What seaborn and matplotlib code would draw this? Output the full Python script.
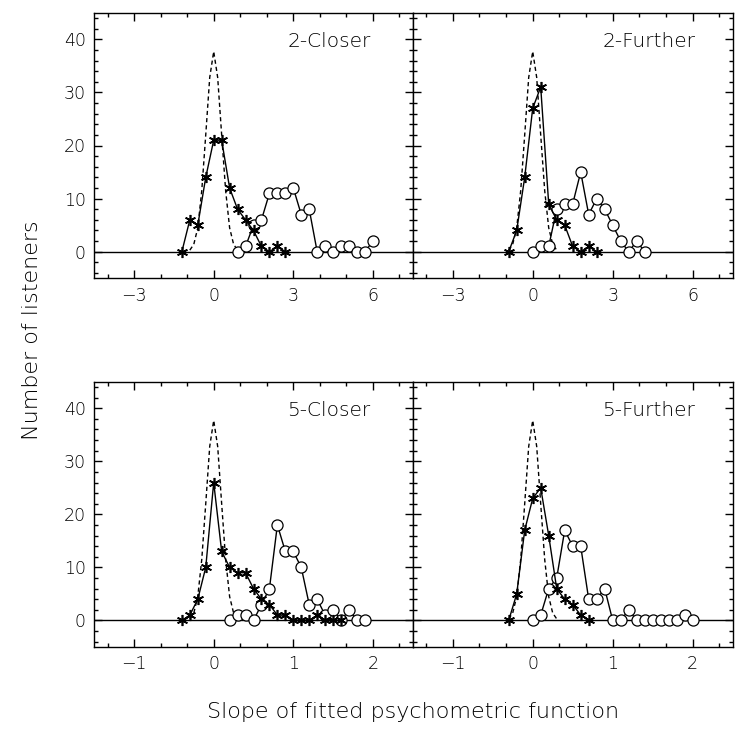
import numpy as np
import pandas as pd
import seaborn as sns
import matplotlib.pyplot as plt
from matplotlib.ticker import MultipleLocator

# ---- data ----
# 2-Closer
c2_star_x = [-1.2, -0.9, -0.6, -0.3, 0.0, 0.3, 0.6, 0.9, 1.2, 1.5, 1.8, 2.1, 2.4, 2.7]
c2_star_y = [0, 6, 5, 14, 21, 21, 12, 8, 6, 4, 1, 0, 1, 0]
c2_circ_x = [0.9, 1.2, 1.5, 1.8, 2.1, 2.4, 2.7, 3.0, 3.3, 3.6, 3.9, 4.2, 4.5, 4.8, 5.1, 5.4, 5.7, 6.0]
c2_circ_y = [0, 1, 5, 6, 11, 11, 11, 12, 7, 8, 0, 1, 0, 1, 1, 0, 0, 2]

# 2-Further
f2_star_x = [-0.9, -0.6, -0.3, 0.0, 0.3, 0.6, 0.9, 1.2, 1.5, 1.8, 2.1, 2.4]
f2_star_y = [0, 4, 14, 27, 31, 9, 6, 5, 1, 0, 1, 0]
f2_circ_x = [0.0, 0.3, 0.6, 0.9, 1.2, 1.5, 1.8, 2.1, 2.4, 2.7, 3.0, 3.3, 3.6, 3.9, 4.2]
f2_circ_y = [0, 1, 1, 8, 9, 9, 15, 7, 10, 8, 5, 2, 0, 2, 0]

# 5-Closer
c5_star_x = [-0.4, -0.3, -0.2, -0.1, 0.0, 0.1, 0.2, 0.3, 0.4, 0.5, 0.6, 0.7, 0.8, 0.9,
             1.0, 1.1, 1.2, 1.3, 1.4, 1.5, 1.6]
c5_star_y = [0, 1, 4, 10, 26, 13, 10, 9, 9, 6, 4, 3, 1, 1, 0, 0, 0, 1, 0, 0, 0]
c5_circ_x = [0.2, 0.3, 0.4, 0.5, 0.6, 0.7, 0.8, 0.9, 1.0, 1.1, 1.2, 1.3, 1.4, 1.5, 1.6, 1.7, 1.8, 1.9]
c5_circ_y = [0, 1, 1, 0, 3, 6, 18, 13, 13, 10, 3, 4, 1, 2, 0, 2, 0, 0]

# 5-Further
f5_star_x = [-0.3, -0.2, -0.1, 0.0, 0.1, 0.2, 0.3, 0.4, 0.5, 0.6, 0.7]
f5_star_y = [0, 5, 17, 23, 25, 16, 6, 4, 3, 1, 0]
f5_circ_x = [0.0, 0.1, 0.2, 0.3, 0.4, 0.5, 0.6, 0.7, 0.8, 0.9, 1.0, 1.1, 1.2, 1.3, 1.4,
             1.5, 1.6, 1.7, 1.8, 1.9, 2.0]
f5_circ_y = [0, 1, 6, 8, 17, 14, 14, 4, 4, 6, 0, 0, 2, 0, 0, 0, 0, 0, 0, 1, 0]

# dashed reference curve (same shape in every panel)
dash_x_top = [-0.9, -0.75, -0.6, -0.45, -0.3, -0.15, 0.0, 0.15, 0.3, 0.45, 0.6, 0.75, 0.9]
dash_x_bot = [-0.3, -0.25, -0.2, -0.15, -0.1, -0.05, 0.0, 0.05, 0.1, 0.15, 0.2, 0.25, 0.3]
dash_y = [0.3, 1.4, 4.5, 11.5, 22.0, 32.8, 37.7, 32.8, 22.0, 11.5, 4.5, 1.4, 0.3]

panel_names = ["2-Closer", "2-Further", "5-Closer", "5-Further"]

sns.set_style("ticks")
plt.rcParams["font.family"] = ["DejaVu Sans"]
plt.rcParams["font.weight"] = "light"
plt.rcParams["axes.linewidth"] = 1.0

fig = plt.figure(figsize=(7.44, 7.48), dpi=100)
W, H = 744, 748
boxes = [
    (94.3, 12.7, 318.4, 265.6),
    (412.7, 12.7, 320.0, 265.6),
    (94.3, 381.7, 318.4, 265.3),
    (412.7, 381.7, 320.0, 265.3),
]
axes = [fig.add_axes([x / W, 1 - (y + h) / H, w / W, h / H]) for x, y, w, h in boxes]

series = [
    (c2_star_x, c2_star_y, c2_circ_x, c2_circ_y),
    (f2_star_x, f2_star_y, f2_circ_x, f2_circ_y),
    (c5_star_x, c5_star_y, c5_circ_x, c5_circ_y),
    (f5_star_x, f5_star_y, f5_circ_x, f5_circ_y),
]

for i, ax in enumerate(axes):
    sx, sy, cx, cy = series[i]
    top = i < 2
    dx = dash_x_top if top else dash_x_bot

    ax.axhline(0, color="k", lw=1.0, zorder=1)
    sns.lineplot(x=dx, y=dash_y, ax=ax, color="k", lw=1.0, linestyle=(0, (3, 2.2)),
                 sort=False, errorbar=None, zorder=2)
    sns.lineplot(x=cx, y=cy, ax=ax, color="k", lw=1.0, marker="o", markersize=8,
                 markerfacecolor="white", markeredgecolor="k", markeredgewidth=0.9,
                 sort=False, errorbar=None, zorder=3)
    sns.lineplot(x=sx, y=sy, ax=ax, color="k", lw=1.0, marker=(6, 2, 0), markersize=8,
                 markeredgecolor="k", markeredgewidth=1.2,
                 sort=False, errorbar=None, zorder=4)

    if top:
        ax.set_xlim(-4.5, 7.5)
        ax.xaxis.set_major_locator(MultipleLocator(3))
        ax.xaxis.set_minor_locator(MultipleLocator(1))
    else:
        ax.set_xlim(-1.5, 2.5)
        ax.xaxis.set_major_locator(MultipleLocator(1))
        ax.xaxis.set_minor_locator(MultipleLocator(1 / 3))
    ax.set_ylim(-5, 45)
    ax.yaxis.set_major_locator(MultipleLocator(10))
    ax.yaxis.set_minor_locator(MultipleLocator(2))
    ax.set_xlabel("")
    ax.set_ylabel("")

    ax.tick_params(which="both", direction="in", top=True, right=True,
                   labelsize=12.5, color="k", labelcolor="k")
    ax.tick_params(which="major", length=5.5, width=1.0, pad=6)
    ax.tick_params(which="minor", length=3, width=1.0)
    if i % 2 == 1:
        ax.tick_params(labelleft=False)
    for s in ax.spines.values():
        s.set_color("k")
        s.set_visible(True)

    ax.text(0.737, 0.872, panel_names[i], transform=ax.transAxes, ha="center",
            va="baseline", fontsize=14.5, color="k")

fig.text(413 / W, 1 - 712 / H, "Slope of fitted psychometric function",
         ha="center", va="center", fontsize=16, color="k")
fig.text(32 / W, 1 - 330 / H, "Number of listeners", rotation=90,
         ha="center", va="center", fontsize=16, color="k")

fig.savefig("out.png", dpi=100)
